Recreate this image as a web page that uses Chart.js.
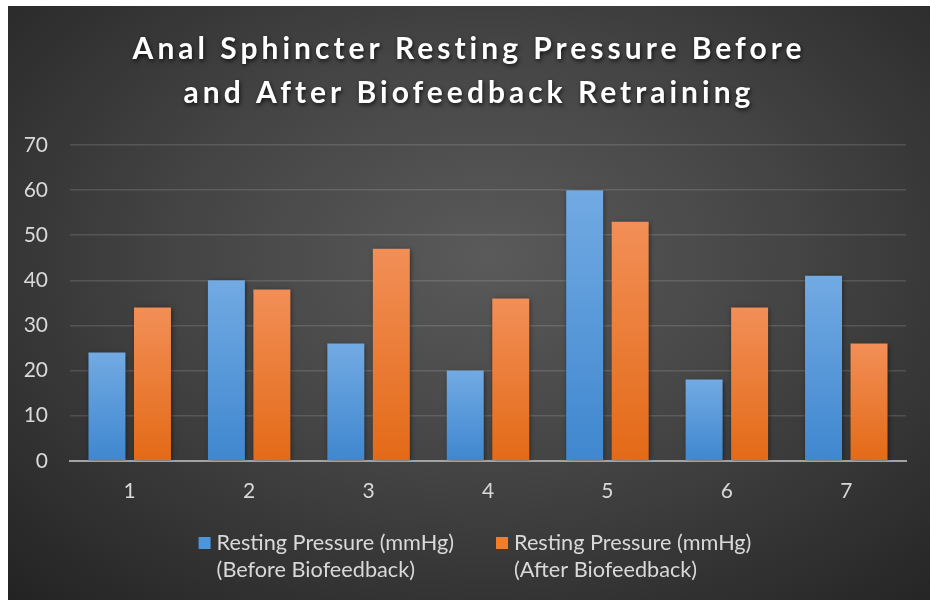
<!DOCTYPE html>
<html>
<head>
<meta charset="utf-8">
<script src="https://cdn.jsdelivr.net/npm/chart.js@4/dist/chart.umd.min.js"></script>
<style>
  html, body { margin: 0; padding: 0; background: #fff; }
  #wrap {
    position: absolute; left: 8px; top: 6px; width: 922px; height: 594px;
    background: radial-gradient(ellipse 75% 80% at 52% 42%, #5a5a5a 0%, #444 45%, #2c2c2c 85%, #232323 100%);
  }
</style>
</head>
<body>
<div id="wrap"><canvas id="pressureChart"></canvas></div>
<script>
const categories = ['1', '2', '3', '4', '5', '6', '7'];
const beforeValues = [24, 40, 26, 20, 60, 18, 41];
const afterValues = [34, 38, 47, 36, 53, 34, 26];
const seriesLabels = [
  ['Resting Pressure (mmHg)', '(Before Biofeedback)'],
  ['Resting Pressure (mmHg)', '(After Biofeedback)']
];
const titleLines = ['Anal Sphincter Resting Pressure Before', 'and After Biofeedback Retraining'];
const yMin = 0;
const yMax = 70;
const yStep = 10;

const FONT = 'Lato, "Open Sans", sans-serif';
const TEXT = '#d9d9d9';

// vertical gradient from the top of each bar down to zero
function barFill(top, bottom) {
  return (c) => {
    const chart = c.chart;
    const y = chart.scales && chart.scales.y;
    if (c.type !== 'data' || !y) return bottom;
    const y0 = y.getPixelForValue(0);
    const y1 = y.getPixelForValue(c.raw);
    if (!isFinite(y0) || !isFinite(y1) || y0 === y1) return bottom;
    const g = chart.ctx.createLinearGradient(0, y1, 0, y0);
    g.addColorStop(0, top);
    g.addColorStop(1, bottom);
    return g;
  };
}

const barShadow = {
  id: 'barShadow',
  beforeDatasetsDraw(chart) {
    const ctx = chart.ctx;
    ctx.save();
    ctx.shadowColor = 'rgba(0,0,0,0.55)';
    ctx.shadowBlur = 5;
    ctx.shadowOffsetX = 1;
    ctx.shadowOffsetY = 1;
  },
  afterDatasetsDraw(chart) {
    chart.ctx.restore();
  }
};

// two-line legend under the x axis
const twoLineLegend = {
  id: 'twoLineLegend',
  afterDraw(chart, args, opts) {
    const ctx = chart.ctx;
    ctx.save();
    ctx.font = `${opts.size}px ${FONT}`;
    ctx.textBaseline = 'middle';
    ctx.textAlign = 'left';
    const items = chart.data.datasets.map((ds, i) => {
      const w = Math.max(...seriesLabels[i].map((t) => ctx.measureText(t).width));
      return { color: ds.legendColor, lines: seriesLabels[i], w };
    });
    const itemW = (it) => opts.box + opts.boxGap + it.w;
    const total = items.reduce((s, it) => s + itemW(it), 0) + opts.itemGap * (items.length - 1);
    let x = chart.width / 2 + opts.shift - total / 2;
    items.forEach((it) => {
      ctx.fillStyle = it.color;
      ctx.fillRect(x, opts.y - opts.box / 2, opts.box, opts.box);
      ctx.fillStyle = TEXT;
      it.lines.forEach((t, k) => ctx.fillText(t, x + opts.box + opts.boxGap, opts.y + k * opts.lineHeight));
      x += itemW(it) + opts.itemGap;
    });
    ctx.restore();
  }
};

const chart = new Chart(document.getElementById('pressureChart'), {
  type: 'bar',
  data: {
    labels: categories,
    datasets: [
      {
        label: seriesLabels[0].join(' '),
        data: beforeValues,
        backgroundColor: barFill('#72aae3', '#3f87cf'),
        legendColor: '#4e96dc',
        categoryPercentage: 0.762,
        barPercentage: 0.813
      },
      {
        label: seriesLabels[1].join(' '),
        data: afterValues,
        backgroundColor: barFill('#f28f57', '#e36a17'),
        legendColor: '#f07d2c',
        categoryPercentage: 0.762,
        barPercentage: 0.813
      }
    ]
  },
  options: {
    responsive: true,
    maintainAspectRatio: false,
    animation: false,
    layout: { padding: { left: 0, right: 24, top: 0, bottom: 78 } },
    plugins: {
      title: {
        display: true,
        text: titleLines,
        color: '#ffffff',
        font: { family: FONT, size: 30, weight: 'bold', lineHeight: 1.467 },
        padding: { top: 21, bottom: 30 }
      },
      legend: { display: false },
      twoLineLegend: { size: 21.7, box: 12, boxGap: 6, itemGap: 42, lineHeight: 27, y: 537, shift: 6 },
      tooltip: { enabled: false }
    },
    scales: {
      x: {
        grid: { display: false, drawTicks: false },
        border: { color: '#a3a3a3', width: 2 },
        ticks: { color: TEXT, font: { family: FONT, size: 21 }, padding: 18 }
      },
      y: {
        min: yMin,
        max: yMax,
        afterFit: (scale) => { scale.width = 62; },
        grid: { color: 'rgba(255,255,255,0.13)', lineWidth: 1.5, drawTicks: false },
        border: { display: false },
        ticks: { stepSize: yStep, color: TEXT, font: { family: FONT, size: 21 }, padding: 22 }
      }
    }
  },
  plugins: [barShadow, twoLineLegend]
});

// title with letter spacing and a soft drop shadow, centred on the whole canvas
const tb = chart.titleBlock;
const baseDraw = tb.draw.bind(tb);
tb.draw = function () {
  const ctx = this.ctx;
  ctx.save();
  ctx.translate(12, 0);
  ctx.letterSpacing = '4px';
  ctx.shadowColor = 'rgba(0,0,0,0.75)';
  ctx.shadowBlur = 4;
  ctx.shadowOffsetX = 1;
  ctx.shadowOffsetY = 2;
  baseDraw();
  ctx.restore();
};
chart.draw();
</script>
</body>
</html>
